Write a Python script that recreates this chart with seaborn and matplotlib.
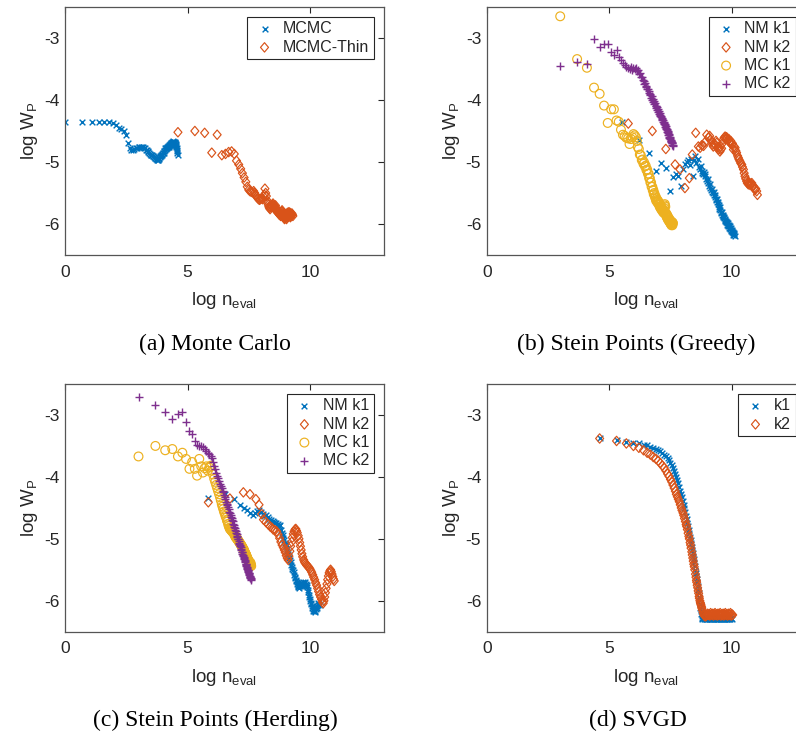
import matplotlib
matplotlib.use("Agg")
import matplotlib.pyplot as plt
from matplotlib.path import Path
from matplotlib.markers import MarkerStyle
import seaborn as sns

# ---------------- data ----------------
# (a) Monte Carlo
mcmc_x = [0.00, 0.69, 1.10, 1.39, 1.61, 1.79, 1.95, 2.08, 2.20, 2.30,
          2.40, 2.48, 2.56, 2.64, 2.71, 2.77, 2.83, 2.89, 2.94, 3.00,
          3.04, 3.09, 3.14, 3.18, 3.22, 3.26, 3.30, 3.33, 3.37, 3.40,
          3.43, 3.47, 3.50, 3.53, 3.56, 3.58, 3.61, 3.64, 3.66, 3.69,
          3.71, 3.74, 3.76, 3.78, 3.81, 3.83, 3.85, 3.87, 3.89, 3.91,
          3.93, 3.95, 3.97, 3.99, 4.01, 4.03, 4.04, 4.06, 4.08, 4.09,
          4.11, 4.13, 4.14, 4.16, 4.17, 4.19, 4.20, 4.22, 4.23, 4.25,
          4.26, 4.28, 4.29, 4.30, 4.32, 4.33, 4.34, 4.36, 4.37, 4.38,
          4.39, 4.41, 4.42, 4.43, 4.44, 4.45, 4.47, 4.48, 4.49, 4.50,
          4.51, 4.52, 4.53, 4.54, 4.55, 4.56, 4.57, 4.58, 4.59, 4.60]
mcmc_y = [-4.36, -4.36, -4.36, -4.36, -4.36, -4.36, -4.37, -4.41, -4.45, -4.47,
          -4.50, -4.56, -4.70, -4.78, -4.80, -4.80, -4.79, -4.78, -4.77, -4.76,
          -4.75, -4.75, -4.76, -4.76, -4.77, -4.78, -4.80, -4.80, -4.82, -4.84,
          -4.86, -4.87, -4.88, -4.88, -4.89, -4.90, -4.91, -4.92, -4.93, -4.94,
          -4.95, -4.96, -4.95, -4.96, -4.96, -4.95, -4.94, -4.92, -4.90, -4.91,
          -4.89, -4.88, -4.87, -4.86, -4.86, -4.85, -4.83, -4.82, -4.80, -4.78,
          -4.77, -4.79, -4.78, -4.76, -4.77, -4.75, -4.76, -4.74, -4.75, -4.73,
          -4.74, -4.72, -4.71, -4.72, -4.70, -4.71, -4.69, -4.70, -4.68, -4.69,
          -4.67, -4.68, -4.66, -4.67, -4.69, -4.68, -4.70, -4.67, -4.69, -4.72,
          -4.70, -4.74, -4.71, -4.76, -4.73, -4.80, -4.78, -4.85, -4.82, -4.88]

thin_x = [4.61, 5.30, 5.70, 5.99, 6.21, 6.40, 6.55, 6.68, 6.80, 6.91,
          7.00, 7.09, 7.17, 7.24, 7.31, 7.38, 7.44, 7.50, 7.55, 7.60,
          7.65, 7.70, 7.74, 7.78, 7.82, 7.86, 7.90, 7.94, 7.97, 8.01,
          8.04, 8.07, 8.11, 8.14, 8.16, 8.19, 8.22, 8.25, 8.27, 8.30,
          8.32, 8.34, 8.37, 8.39, 8.41, 8.43, 8.45, 8.47, 8.49, 8.52,
          8.54, 8.56, 8.57, 8.59, 8.61, 8.63, 8.65, 8.67, 8.68, 8.70,
          8.72, 8.73, 8.75, 8.77, 8.78, 8.80, 8.81, 8.83, 8.84, 8.86,
          8.87, 8.88, 8.90, 8.91, 8.92, 8.94, 8.95, 8.96, 8.97, 8.99,
          9.00, 9.01, 9.02, 9.04, 9.05, 9.06, 9.07, 9.08, 9.09, 9.10,
          9.12, 9.13, 9.14, 9.15, 9.16, 9.17, 9.18, 9.19, 9.20, 9.21,
          9.22, 9.24, 9.26, 9.28, 9.30]
thin_y = [-4.52, -4.50, -4.53, -4.85, -4.56, -4.89, -4.87, -4.84, -4.83, -4.87,
          -4.98, -5.04, -5.11, -5.18, -5.25, -5.32, -5.40, -5.45, -5.47, -5.48,
          -5.49, -5.47, -5.50, -5.53, -5.56, -5.58, -5.60, -5.61, -5.60, -5.59,
          -5.58, -5.60, -5.56, -5.53, -5.43, -5.50, -5.55, -5.62, -5.66, -5.69,
          -5.72, -5.74, -5.76, -5.73, -5.71, -5.70, -5.72, -5.69, -5.67, -5.70,
          -5.73, -5.76, -5.72, -5.70, -5.74, -5.78, -5.80, -5.79, -5.81, -5.82,
          -5.80, -5.83, -5.85, -5.82, -5.84, -5.87, -5.85, -5.83, -5.80, -5.78,
          -5.80, -5.83, -5.86, -5.88, -5.85, -5.87, -5.90, -5.92, -5.88, -5.86,
          -5.84, -5.87, -5.90, -5.92, -5.89, -5.86, -5.84, -5.82, -5.85, -5.88,
          -5.86, -5.83, -5.81, -5.84, -5.87, -5.85, -5.82, -5.86, -5.89, -5.87,
          -5.84, -5.86, -5.83, -5.85, -5.87]

# shared x positions of the MC runs in (b) and (c)
mc_x = [3.00, 3.69, 4.09, 4.38, 4.61, 4.79, 4.94, 5.08, 5.19, 5.30,
        5.39, 5.48, 5.56, 5.63, 5.70, 5.77, 5.83, 5.89, 5.94, 5.99,
        6.04, 6.09, 6.13, 6.17, 6.21, 6.25, 6.29, 6.33, 6.36, 6.40,
        6.43, 6.46, 6.49, 6.52, 6.55, 6.58, 6.61, 6.63, 6.66, 6.68,
        6.71, 6.73, 6.76, 6.78, 6.80, 6.82, 6.84, 6.87, 6.89, 6.91,
        6.93, 6.95, 6.96, 6.98, 7.00, 7.02, 7.04, 7.06, 7.07, 7.09,
        7.11, 7.12, 7.14, 7.15, 7.17, 7.19, 7.20, 7.22, 7.23, 7.24,
        7.26, 7.27, 7.29, 7.30, 7.31, 7.33, 7.34, 7.35, 7.37, 7.38,
        7.39, 7.40, 7.41, 7.43, 7.44, 7.45, 7.46, 7.47, 7.48, 7.50,
        7.51, 7.52, 7.53, 7.54, 7.55, 7.56, 7.57, 7.58, 7.59, 7.60]

# (b) Stein Points (Greedy)
greedy_mck1_y = [-2.65, -3.34, -3.48, -3.80, -3.90, -4.09, -4.37, -4.15, -4.15, -4.33,
                 -4.35, -4.48, -4.56, -4.58, -4.61, -4.62, -4.71, -4.63, -4.60, -4.55,
                 -4.57, -4.60, -4.66, -4.76, -4.79, -4.88, -4.89, -4.97, -4.96, -5.03,
                 -5.01, -5.07, -5.06, -5.13, -5.12, -5.19, -5.19, -5.26, -5.26, -5.33,
                 -5.33, -5.40, -5.40, -5.46, -5.45, -5.52, -5.50, -5.57, -5.55, -5.62,
                 -5.59, -5.64, -5.61, -5.66, -5.63, -5.68, -5.66, -5.72, -5.69, -5.74,
                 -5.71, -5.76, -5.73, -5.78, -5.75, -5.80, -5.77, -5.82, -5.78, -5.74,
                 -5.70, -5.68, -5.72, -5.83, -5.82, -5.87, -5.84, -5.89, -5.86, -5.91,
                 -5.88, -5.93, -5.90, -5.94, -5.91, -5.96, -5.93, -5.97, -5.94, -5.99,
                 -5.95, -6.00, -5.97, -6.02, -5.99, -6.01, -5.97, -6.02, -5.98, -5.99]
greedy_mck2_y = [-3.45, -3.38, -3.42, -3.01, -3.15, -3.09, -3.09, -3.22, -3.27, -3.19,
                 -3.31, -3.36, -3.40, -3.44, -3.46, -3.48, -3.50, -3.47, -3.52, -3.49,
                 -3.50, -3.48, -3.53, -3.52, -3.58, -3.57, -3.63, -3.63, -3.68, -3.69,
                 -3.74, -3.73, -3.79, -3.78, -3.83, -3.83, -3.88, -3.86, -3.92, -3.90,
                 -3.96, -3.94, -4.00, -3.98, -4.03, -4.02, -4.06, -4.05, -4.10, -4.09,
                 -4.13, -4.12, -4.16, -4.15, -4.19, -4.18, -4.22, -4.21, -4.25, -4.24,
                 -4.28, -4.26, -4.31, -4.29, -4.33, -4.32, -4.36, -4.35, -4.39, -4.37,
                 -4.41, -4.39, -4.44, -4.42, -4.46, -4.45, -4.49, -4.47, -4.52, -4.50,
                 -4.54, -4.52, -4.56, -4.55, -4.59, -4.57, -4.61, -4.59, -4.63, -4.62,
                 -4.66, -4.64, -4.68, -4.66, -4.70, -4.68, -4.72, -4.70, -4.74, -4.73]

greedy_nmk1_x = [5.52, 6.21, 6.62, 6.91, 7.13, 7.31, 7.47, 7.60, 7.72, 7.82,
                 7.92, 8.01, 8.09, 8.16, 8.23, 8.29, 8.35, 8.41, 8.46, 8.52,
                 8.56, 8.61, 8.65, 8.69, 8.73, 8.77, 8.80, 8.84, 8.87, 8.90,
                 8.93, 8.96, 8.99, 9.02, 9.05, 9.08, 9.10, 9.13, 9.16, 9.18,
                 9.21, 9.23, 9.26, 9.28, 9.30, 9.32, 9.34, 9.37, 9.39, 9.41,
                 9.43, 9.45, 9.47, 9.48, 9.50, 9.52, 9.54, 9.56, 9.58, 9.60,
                 9.61, 9.63, 9.65, 9.66, 9.68, 9.70, 9.71, 9.73, 9.74, 9.76,
                 9.77, 9.79, 9.80, 9.82, 9.83, 9.85, 9.86, 9.88, 9.89, 9.90,
                 9.92, 9.93, 9.95, 9.96, 9.97, 9.99, 10.00, 10.01, 10.03, 10.04,
                 10.05, 10.06, 10.08, 10.09, 10.10, 10.12]
greedy_nmk1_y = [-4.35, -4.65, -4.85, -5.15, -5.01, -5.09, -5.47, -5.24, -5.19, -5.22,
                 -5.39, -5.12, -5.04, -5.00, -4.96, -5.05, -4.95, -5.22, -4.97, -4.91,
                 -5.02, -4.95, -5.08, -5.12, -5.06, -5.17, -5.14, -5.20, -5.16, -5.22,
                 -5.19, -5.27, -5.30, -5.28, -5.34, -5.38, -5.36, -5.42, -5.45, -5.43,
                 -5.48, -5.50, -5.49, -5.54, -5.56, -5.53, -5.59, -5.61, -5.60, -5.65,
                 -5.67, -5.64, -5.70, -5.72, -5.75, -5.73, -5.78, -5.80, -5.83, -5.81,
                 -5.85, -5.87, -5.85, -5.89, -5.91, -5.89, -5.93, -5.95, -5.92, -5.97,
                 -5.95, -5.99, -5.97, -6.01, -5.99, -6.03, -6.01, -6.04, -6.02, -6.06,
                 -6.04, -6.08, -6.06, -6.09, -6.07, -6.11, -6.09, -6.13, -6.11, -6.15,
                 -6.13, -6.17, -6.15, -6.18, -6.16, -6.20]

greedy_nmk2_x = [5.78, 6.76, 7.31, 7.69, 7.89, 8.09, 8.27, 8.39, 8.53, 8.64,
                 8.71, 8.78, 8.85, 8.91, 8.98, 9.05, 9.10, 9.14, 9.18, 9.22,
                 9.25, 9.29, 9.32, 9.36, 9.39, 9.43, 9.46, 9.49, 9.52, 9.55,
                 9.59, 9.62, 9.66, 9.69, 9.73, 9.76, 9.79, 9.82, 9.85, 9.88,
                 9.90, 9.93, 9.96, 10.00, 10.03, 10.07, 10.10, 10.14, 10.17, 10.20,
                 10.24, 10.27, 10.30, 10.34, 10.37, 10.41, 10.44, 10.48, 10.51, 10.54,
                 10.57, 10.61, 10.64, 10.68, 10.71, 10.75, 10.78, 10.82, 10.85, 10.88,
                 10.91, 10.95, 10.98, 11.02, 11.05]
greedy_nmk2_y = [-4.38, -4.50, -4.79, -5.04, -5.12, -5.42, -5.26, -4.88, -4.53, -4.75,
                 -4.77, -4.73, -4.74, -4.68, -4.56, -4.61, -4.58, -4.64, -4.67, -4.72,
                 -4.75, -4.70, -4.73, -4.66, -4.69, -4.76, -4.80, -4.77, -4.83, -4.80,
                 -4.78, -4.70, -4.64, -4.61, -4.59, -4.63, -4.60, -4.62, -4.65, -4.63,
                 -4.67, -4.69, -4.66, -4.72, -4.70, -4.80, -4.75, -4.77, -4.82, -4.85,
                 -4.90, -4.93, -4.96, -4.99, -5.02, -5.04, -5.08, -5.12, -5.18, -5.23,
                 -5.27, -5.31, -5.34, -5.36, -5.33, -5.37, -5.35, -5.34, -5.38, -5.39,
                 -5.42, -5.45, -5.43, -5.47, -5.53]

# (c) Stein Points (Herding)
herding_mck1_y = [-3.67, -3.50, -3.57, -3.55, -3.67, -3.61, -3.71, -3.87, -3.76, -3.87,
                  -3.98, -3.71, -3.83, -3.93, -3.86, -3.83, -3.90, -3.85, -3.82, -3.90,
                  -3.96, -4.03, -4.08, -4.13, -4.18, -4.23, -4.28, -4.33, -4.38, -4.44,
                  -4.48, -4.52, -4.56, -4.59, -4.63, -4.66, -4.70, -4.72, -4.76, -4.79,
                  -4.82, -4.84, -4.85, -4.86, -4.87, -4.88, -4.89, -4.90, -4.91, -4.93,
                  -4.94, -4.96, -4.97, -4.98, -4.99, -5.00, -5.01, -5.02, -5.03, -5.04,
                  -5.05, -5.06, -5.07, -5.08, -5.09, -5.10, -5.11, -5.12, -5.13, -5.14,
                  -5.15, -5.16, -5.17, -5.18, -5.19, -5.21, -5.22, -5.23, -5.24, -5.25,
                  -5.26, -5.27, -5.28, -5.30, -5.31, -5.32, -5.33, -5.34, -5.35, -5.36,
                  -5.37, -5.38, -5.39, -5.40, -5.41, -5.38, -5.42, -5.40, -5.43, -5.44]
herding_mck2_y = [-2.71, -2.84, -2.96, -3.06, -2.99, -2.96, -3.12, -3.26, -3.31, -3.42,
                  -3.49, -3.50, -3.50, -3.51, -3.55, -3.58, -3.62, -3.63, -3.66, -3.70,
                  -3.76, -3.83, -3.88, -3.93, -3.98, -4.02, -4.06, -4.11, -4.14, -4.18,
                  -4.22, -4.25, -4.29, -4.32, -4.36, -4.40, -4.43, -4.46, -4.49, -4.52,
                  -4.56, -4.59, -4.62, -4.65, -4.67, -4.70, -4.72, -4.76, -4.78, -4.81,
                  -4.83, -4.86, -4.87, -4.90, -4.92, -4.95, -4.97, -5.00, -5.01, -5.04,
                  -5.06, -5.08, -5.10, -5.12, -5.14, -5.17, -5.18, -5.21, -5.22, -5.24,
                  -5.26, -5.27, -5.30, -5.31, -5.33, -5.35, -5.36, -5.38, -5.40, -5.41,
                  -5.43, -5.44, -5.45, -5.47, -5.48, -5.50, -5.51, -5.52, -5.53, -5.55,
                  -5.56, -5.57, -5.58, -5.60, -5.61, -5.62, -5.63, -5.64, -5.65, -5.66]

herding_nmk1_x = [5.82, 6.53, 6.91, 7.14, 7.31, 7.44, 7.56, 7.66, 7.76, 7.85,
                  7.93, 8.01, 8.08, 8.14, 8.21, 8.27, 8.32, 8.37, 8.42, 8.47,
                  8.52, 8.56, 8.60, 8.64, 8.68, 8.72, 8.75, 8.79, 8.82, 8.85,
                  8.88, 8.91, 8.94, 8.97, 9.00, 9.03, 9.06, 9.08, 9.11, 9.14,
                  9.16, 9.19, 9.21, 9.24, 9.26, 9.28, 9.31, 9.33, 9.35, 9.37,
                  9.39, 9.41, 9.43, 9.45, 9.47, 9.49, 9.51, 9.53, 9.55, 9.57,
                  9.59, 9.61, 9.63, 9.65, 9.67, 9.69, 9.71, 9.73, 9.75, 9.77,
                  9.79, 9.81, 9.83, 9.85, 9.87, 9.89, 9.91, 9.93, 9.95, 9.97,
                  9.99, 10.01, 10.03, 10.05, 10.07, 10.09, 10.11, 10.13, 10.15, 10.17,
                  10.19, 10.21, 10.23, 10.25, 10.27, 10.29, 10.31, 10.33, 10.36, 10.40]
herding_nmk1_y = [-4.34, -4.27, -4.36, -4.45, -4.50, -4.54, -4.59, -4.61, -4.58, -4.55,
                  -4.53, -4.57, -4.60, -4.63, -4.62, -4.65, -4.68, -4.71, -4.69, -4.72,
                  -4.73, -4.75, -4.74, -4.77, -4.76, -4.79, -4.80, -4.78, -4.85, -4.90,
                  -4.94, -4.98, -5.02, -5.06, -5.09, -5.12, -5.16, -5.20, -5.24, -5.28,
                  -5.31, -5.35, -5.38, -5.42, -5.45, -5.48, -5.51, -5.54, -5.58, -5.61,
                  -5.64, -5.66, -5.68, -5.70, -5.73, -5.75, -5.77, -5.78, -5.76, -5.79,
                  -5.77, -5.74, -5.72, -5.75, -5.71, -5.73, -5.70, -5.74, -5.72, -5.71,
                  -5.74, -5.70, -5.73, -5.76, -5.74, -5.78, -5.82, -5.86, -5.90, -5.94,
                  -5.97, -6.00, -6.03, -6.06, -6.09, -6.12, -6.14, -6.16, -6.17, -6.15,
                  -6.18, -6.16, -6.13, -6.10, -6.08, -6.11, -6.07, -6.04, -6.05, -6.07]

herding_nmk2_x = [5.85, 6.73, 7.28, 7.55, 7.79, 7.92, 8.03, 8.10, 8.20, 8.30,
                  8.37, 8.44, 8.50, 8.57, 8.64, 8.70, 8.76, 8.81, 8.86, 8.91,
                  8.95, 8.99, 9.03, 9.07, 9.11, 9.14, 9.18, 9.21, 9.25, 9.28,
                  9.32, 9.35, 9.39, 9.42, 9.45, 9.48, 9.52, 9.55, 9.58, 9.61,
                  9.64, 9.67, 9.70, 9.74, 9.77, 9.80, 9.84, 9.87, 9.91, 9.95,
                  9.99, 10.03, 10.07, 10.11, 10.15, 10.19, 10.23, 10.27, 10.31, 10.35,
                  10.39, 10.43, 10.47, 10.51, 10.54, 10.57, 10.60, 10.63, 10.66, 10.69,
                  10.72, 10.75, 10.78, 10.81, 10.84, 10.87, 10.90, 10.93, 10.96, 10.99]
herding_nmk2_y = [-4.41, -4.35, -4.25, -4.28, -4.36, -4.45, -4.60, -4.69, -4.73, -4.77,
                  -4.80, -4.82, -4.85, -4.86, -4.88, -4.93, -4.99, -5.05, -5.10, -5.14,
                  -5.18, -5.22, -5.27, -5.31, -5.34, -5.28, -5.20, -5.12, -5.05, -4.98,
                  -4.92, -4.88, -4.85, -4.84, -4.87, -4.90, -4.95, -5.00, -5.06, -5.12,
                  -5.18, -5.24, -5.29, -5.34, -5.37, -5.39, -5.41, -5.43, -5.44, -5.46,
                  -5.48, -5.51, -5.54, -5.58, -5.62, -5.66, -5.71, -5.75, -5.80, -5.85,
                  -5.90, -5.94, -5.98, -6.02, -6.04, -6.00, -5.94, -5.87, -5.80, -5.73,
                  -5.66, -5.60, -5.55, -5.52, -5.50, -5.53, -5.57, -5.61, -5.65, -5.68]

# (d) SVGD
svgd_k1_x = [4.61, 5.30, 5.70, 5.99, 6.21, 6.40, 6.55, 6.68, 6.80, 6.91,
             7.00, 7.09, 7.17, 7.24, 7.31, 7.38, 7.44, 7.50, 7.55, 7.60,
             7.65, 7.70, 7.74, 7.78, 7.82, 7.86, 7.90, 7.94, 7.97, 8.01,
             8.04, 8.07, 8.11, 8.14, 8.16, 8.19, 8.22, 8.25, 8.27, 8.30,
             8.32, 8.34, 8.37, 8.39, 8.41, 8.43, 8.45, 8.47, 8.49, 8.52,
             8.54, 8.56, 8.57, 8.59, 8.61, 8.63, 8.65, 8.67, 8.68, 8.70,
             8.72, 8.73, 8.75, 8.77, 8.78, 8.80, 8.83, 8.86, 8.89, 8.92,
             8.95, 8.98, 9.01, 9.04, 9.07, 9.10, 9.13, 9.16, 9.19, 9.22,
             9.25, 9.28, 9.31, 9.34, 9.37, 9.40, 9.43, 9.46, 9.49, 9.52,
             9.55, 9.58, 9.61, 9.64, 9.67, 9.70, 9.73, 9.76, 9.79, 9.82,
             9.85, 9.88, 9.91, 9.94, 9.97, 10.00]
svgd_k1_y = [-3.38, -3.41, -3.43, -3.45, -3.46, -3.48, -3.49, -3.51, -3.53, -3.55,
             -3.57, -3.59, -3.62, -3.64, -3.66, -3.70, -3.73, -3.77, -3.81, -3.85,
             -3.90, -3.95, -4.00, -4.05, -4.10, -4.16, -4.22, -4.28, -4.33, -4.39,
             -4.45, -4.51, -4.57, -4.63, -4.68, -4.74, -4.80, -4.86, -4.91, -4.97,
             -5.02, -5.07, -5.13, -5.18, -5.23, -5.28, -5.33, -5.38, -5.44, -5.50,
             -5.55, -5.60, -5.65, -5.70, -5.76, -5.82, -5.88, -5.94, -5.99, -6.05,
             -6.11, -6.16, -6.21, -6.25, -6.28, -6.29, -6.28, -6.30, -6.29, -6.28,
             -6.29, -6.30, -6.29, -6.28, -6.29, -6.30, -6.28, -6.29, -6.30, -6.29,
             -6.28, -6.29, -6.30, -6.29, -6.28, -6.29, -6.30, -6.29, -6.28, -6.29,
             -6.30, -6.29, -6.28, -6.29, -6.30, -6.29, -6.28, -6.29, -6.30, -6.29,
             -6.28, -6.29, -6.30, -6.29, -6.28, -6.29]

svgd_k2_x = [4.61, 5.30, 5.70, 5.99, 6.21, 6.40, 6.55, 6.68, 6.80, 6.91,
             7.00, 7.09, 7.17, 7.24, 7.31, 7.38, 7.44, 7.50, 7.55, 7.60,
             7.65, 7.70, 7.74, 7.78, 7.82, 7.86, 7.90, 7.94, 7.97, 8.01,
             8.04, 8.07, 8.11, 8.14, 8.16, 8.19, 8.22, 8.25, 8.27, 8.30,
             8.32, 8.34, 8.37, 8.39, 8.41, 8.43, 8.45, 8.47, 8.49, 8.52,
             8.54, 8.56, 8.57, 8.59, 8.61, 8.63, 8.65, 8.67, 8.68, 8.70,
             8.72, 8.73, 8.75, 8.77, 8.78, 8.80, 8.83, 8.86, 8.88, 8.91,
             8.94, 8.96, 8.99, 9.02, 9.05, 9.08, 9.11, 9.14, 9.17, 9.20,
             9.23, 9.26, 9.29, 9.32, 9.35, 9.38, 9.41, 9.44, 9.47, 9.50,
             9.53, 9.56, 9.59, 9.62, 9.65, 9.68, 9.71, 9.74, 9.77, 9.80,
             9.83, 9.86, 9.89, 9.92, 9.95, 9.98, 10.01, 10.04]
svgd_k2_y = [-3.38, -3.42, -3.46, -3.50, -3.53, -3.57, -3.61, -3.64, -3.68, -3.71,
             -3.74, -3.78, -3.82, -3.85, -3.90, -3.95, -3.99, -4.04, -4.08, -4.13,
             -4.18, -4.23, -4.28, -4.32, -4.36, -4.40, -4.45, -4.50, -4.54, -4.58,
             -4.62, -4.67, -4.72, -4.77, -4.80, -4.85, -4.91, -4.96, -5.00, -5.06,
             -5.10, -5.15, -5.21, -5.26, -5.31, -5.36, -5.41, -5.45, -5.50, -5.57,
             -5.62, -5.67, -5.70, -5.75, -5.79, -5.84, -5.88, -5.93, -5.96, -6.00,
             -6.03, -6.05, -6.07, -6.10, -6.12, -6.15, -6.19, -6.22, -6.24, -6.25,
             -6.25, -6.24, -6.23, -6.21, -6.23, -6.22, -6.24, -6.20, -6.22, -6.23,
             -6.21, -6.24, -6.22, -6.20, -6.23, -6.22, -6.24, -6.21, -6.23, -6.22,
             -6.20, -6.24, -6.22, -6.23, -6.21, -6.24, -6.22, -6.20, -6.23, -6.22,
             -6.24, -6.21, -6.23, -6.22, -6.20, -6.24, -6.22, -6.23]

# ---------------- styling ----------------
sns.set_style("white")
plt.rcParams["font.family"] = ["Liberation Sans", "DejaVu Sans"]
plt.rcParams["mathtext.default"] = "regular"
plt.rcParams["axes.unicode_minus"] = False

BLUE, ORANGE, YELLOW, PURPLE = "#0072BD", "#D95319", "#EDB120", "#7E2F8E"
AXC = "#262626"
diamond = MarkerStyle(Path([(0, 1), (0.85, 0), (0, -1), (-0.85, 0), (0, 1)],
                           [Path.MOVETO, Path.LINETO, Path.LINETO, Path.LINETO, Path.CLOSEPOLY]))

W, H = 796, 736
fig = plt.figure(figsize=(W / 100, H / 100), dpi=100)


def pos(l, t, r, b):
    return [l / W, 1 - b / H, (r - l) / W, (b - t) / H]


ax_a = fig.add_axes(pos(65, 7, 383.5, 255))
ax_b = fig.add_axes(pos(486.7, 7, 805.2, 255))
ax_c = fig.add_axes(pos(65, 384, 383.5, 631.7))
ax_d = fig.add_axes(pos(486.7, 384, 805.2, 631.7))


def cross(ax, x, y, c, lab):
    sns.scatterplot(x=x, y=y, ax=ax, marker="x", color=c, s=17, linewidth=1.0, label=lab)


def plus(ax, x, y, c, lab):
    sns.scatterplot(x=x, y=y, ax=ax, marker="+", color=c, s=30, linewidth=1.0, label=lab)


def dia(ax, x, y, c, lab):
    sns.scatterplot(x=x, y=y, ax=ax, marker=diamond, color=c, facecolors="none",
                    edgecolor=c, s=46, linewidth=0.85, label=lab)


def circ(ax, x, y, c, lab):
    sns.scatterplot(x=x, y=y, ax=ax, marker="o", color=c, facecolors="none",
                    edgecolor=c, s=40, linewidth=0.85, label=lab)


cross(ax_a, mcmc_x, mcmc_y, BLUE, "MCMC")
dia(ax_a, thin_x, thin_y, ORANGE, "MCMC-Thin")

cross(ax_b, greedy_nmk1_x, greedy_nmk1_y, BLUE, "NM k1")
dia(ax_b, greedy_nmk2_x, greedy_nmk2_y, ORANGE, "NM k2")
circ(ax_b, mc_x, greedy_mck1_y, YELLOW, "MC k1")
plus(ax_b, mc_x, greedy_mck2_y, PURPLE, "MC k2")

cross(ax_c, herding_nmk1_x, herding_nmk1_y, BLUE, "NM k1")
dia(ax_c, herding_nmk2_x, herding_nmk2_y, ORANGE, "NM k2")
circ(ax_c, mc_x, herding_mck1_y, YELLOW, "MC k1")
plus(ax_c, mc_x, herding_mck2_y, PURPLE, "MC k2")

cross(ax_d, svgd_k1_x, svgd_k1_y, BLUE, "k1")
dia(ax_d, svgd_k2_x, svgd_k2_y, ORANGE, "k2")

for ax in (ax_a, ax_b, ax_c, ax_d):
    ax.set_xlim(0, 13)
    ax.set_ylim(-6.5, -2.5)
    ax.set_xticks([0, 5, 10])
    ax.set_yticks([-6, -5, -4, -3])
    for sp in ax.spines.values():
        sp.set_color("#555555")
        sp.set_linewidth(0.9)
    ax.tick_params(axis="both", direction="in", length=4, width=0.8, top=True, right=True,
                   labelsize=12.5, colors=AXC)
    ax.tick_params(axis="x", pad=7)
    ax.tick_params(axis="y", pad=4)
    ax.set_xlabel(r"log n$_{\mathregular{eval}}$", fontsize=13.5, color=AXC)
    ax.set_ylabel(r"log W$_{\mathregular{P}}$", fontsize=13.5, color=AXC)
    ax.xaxis.label.set_va("center")
    ax.yaxis.label.set_va("center")
    ax.xaxis.set_label_coords(0.5, -0.183)
    ax.yaxis.set_label_coords(-0.11, 0.5)
    leg = ax.legend(loc="upper right", fontsize=11.5, frameon=True, fancybox=False,
                    framealpha=1, edgecolor="#262626", borderaxespad=0.6,
                    handlelength=1.6, handletextpad=0.35, borderpad=0.3, labelspacing=0.2)
    leg.get_frame().set_linewidth(0.8)

caps = [(215, 350, "(a) Monte Carlo"), (636.5, 350, "(b) Stein Points (Greedy)"),
        (215, 726, "(c) Stein Points (Herding)"), (637.5, 726, "(d) SVGD")]
for cx, cy, t in caps:
    fig.text(cx / W, 1 - cy / H, t, ha="center", va="baseline",
             family="Liberation Serif", fontsize=17, color="black")

fig.savefig("out.png", dpi=100)
